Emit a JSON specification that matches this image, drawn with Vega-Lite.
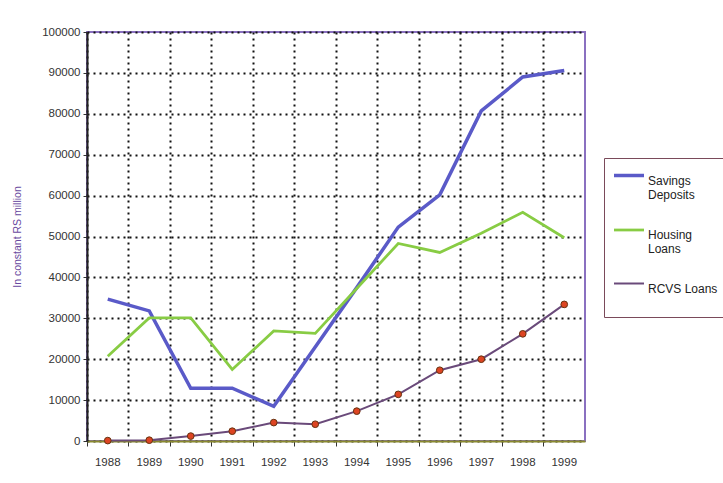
{
  "$schema": "https://vega.github.io/schema/vega-lite/v6.json",
  "width": 498,
  "height": 409,
  "autosize": "none",
  "padding": {"left": 87, "top": 32, "right": 138, "bottom": 42},
  "background": "white",
  "config": {
    "font": "Liberation Sans",
    "view": {"stroke": "#8a70c0", "strokeWidth": 2},
    "axis": {"labelFont": "Liberation Sans", "labelFontSize": 11.5, "labelColor": "#333", "domainColor": "#222", "domainWidth": 2, "tickColor": "#333"},
    "legend": {"strokeColor": "#7a4a5a", "padding": 8, "fillColor": "white"}
  },
  "data": {
    "values": [
      {"year": "1988", "series": "Savings Deposits", "value": 34700},
      {"year": "1989", "series": "Savings Deposits", "value": 31800},
      {"year": "1990", "series": "Savings Deposits", "value": 12900},
      {"year": "1991", "series": "Savings Deposits", "value": 12900},
      {"year": "1992", "series": "Savings Deposits", "value": 8500},
      {"year": "1993", "series": "Savings Deposits", "value": 23000},
      {"year": "1994", "series": "Savings Deposits", "value": 37500},
      {"year": "1995", "series": "Savings Deposits", "value": 52300},
      {"year": "1996", "series": "Savings Deposits", "value": 60200},
      {"year": "1997", "series": "Savings Deposits", "value": 80700},
      {"year": "1998", "series": "Savings Deposits", "value": 89000},
      {"year": "1999", "series": "Savings Deposits", "value": 90600},
      {"year": "1988", "series": "Housing Loans", "value": 20700},
      {"year": "1989", "series": "Housing Loans", "value": 30100},
      {"year": "1990", "series": "Housing Loans", "value": 30100},
      {"year": "1991", "series": "Housing Loans", "value": 17500},
      {"year": "1992", "series": "Housing Loans", "value": 26900},
      {"year": "1993", "series": "Housing Loans", "value": 26300},
      {"year": "1994", "series": "Housing Loans", "value": 37300},
      {"year": "1995", "series": "Housing Loans", "value": 48300},
      {"year": "1996", "series": "Housing Loans", "value": 46100},
      {"year": "1997", "series": "Housing Loans", "value": 50800},
      {"year": "1998", "series": "Housing Loans", "value": 55900},
      {"year": "1999", "series": "Housing Loans", "value": 49700},
      {"year": "1988", "series": "RCVS Loans", "value": 100},
      {"year": "1989", "series": "RCVS Loans", "value": 200},
      {"year": "1990", "series": "RCVS Loans", "value": 1200},
      {"year": "1991", "series": "RCVS Loans", "value": 2400},
      {"year": "1992", "series": "RCVS Loans", "value": 4500},
      {"year": "1993", "series": "RCVS Loans", "value": 4100},
      {"year": "1994", "series": "RCVS Loans", "value": 7300},
      {"year": "1995", "series": "RCVS Loans", "value": 11400},
      {"year": "1996", "series": "RCVS Loans", "value": 17300},
      {"year": "1997", "series": "RCVS Loans", "value": 20000},
      {"year": "1998", "series": "RCVS Loans", "value": 26200},
      {"year": "1999", "series": "RCVS Loans", "value": 33400}
    ]
  },
  "encoding": {
    "x": {
      "field": "year", "type": "ordinal",
      "bandPosition": 0.5,
      "scale": {"type": "band", "paddingInner": 0, "paddingOuter": 0},
      "axis": {"title": null, "labelAngle": 0, "bandPosition": 0, "grid": true, "gridColor": "#111", "gridDash": [2, 4], "gridWidth": 2, "tickSize": 5, "labelPadding": 10, "labelAlign": "center", "labelOffset": 0, "domainColor": "#8a8a30"}
    },
    "y": {
      "field": "value", "type": "quantitative",
      "scale": {"domain": [0, 100000], "nice": false},
      "axis": {"title": "In constant RS million", "values": [0, 10000, 20000, 30000, 40000, 50000, 60000, 70000, 80000, 90000, 100000], "format": "d", "grid": true, "gridColor": "#111", "gridDash": [2, 4], "gridWidth": 2, "tickSize": 4, "labelPadding": 3, "titleX": -65, "titleColor": "#6a4aa0", "titleFont": "Liberation Sans", "titleFontSize": 10.5, "titleFontWeight": "normal"}
    }
  },
  "layer": [
    {
      "mark": {"type": "line"},
      "encoding": {
        "color": {
          "field": "series", "type": "nominal",
          "scale": {"domain": ["Savings Deposits", "Housing Loans", "RCVS Loans"], "range": ["#5a5ac8", "#88cc44", "#6a4a7a"]},
          "legend": {
            "title": null, "orient": "none", "legendX": 517, "legendY": 126,
            "symbolType": "M-2,0L2,0", "symbolSize": 225, "symbolStrokeWidth": 3.5, "symbolOffset": 7.5,
            "labelFont": "Liberation Sans", "labelFontSize": 12, "labelColor": "#222",
            "labelExpr": "datum.label == 'Savings Deposits' ? ['Savings', 'Deposits'] : datum.label == 'Housing Loans' ? ['Housing', 'Loans'] : ['RCVS Loans', ' ']",
            "labelBaseline": "top", "labelOffset": 9.5,
            "rowPadding": 20
          }
        },
        "strokeWidth": {
          "field": "series", "type": "nominal",
          "scale": {"domain": ["Savings Deposits", "Housing Loans", "RCVS Loans"], "range": [3.5, 2, 1.5]},
          "legend": null
        }
      }
    },
    {
      "transform": [{"filter": "datum.series == 'RCVS Loans'"}],
      "mark": {"type": "point", "filled": true, "color": "#dd4422", "stroke": "#663311", "strokeWidth": 1, "size": 45, "opacity": 1}
    }
  ]
}
